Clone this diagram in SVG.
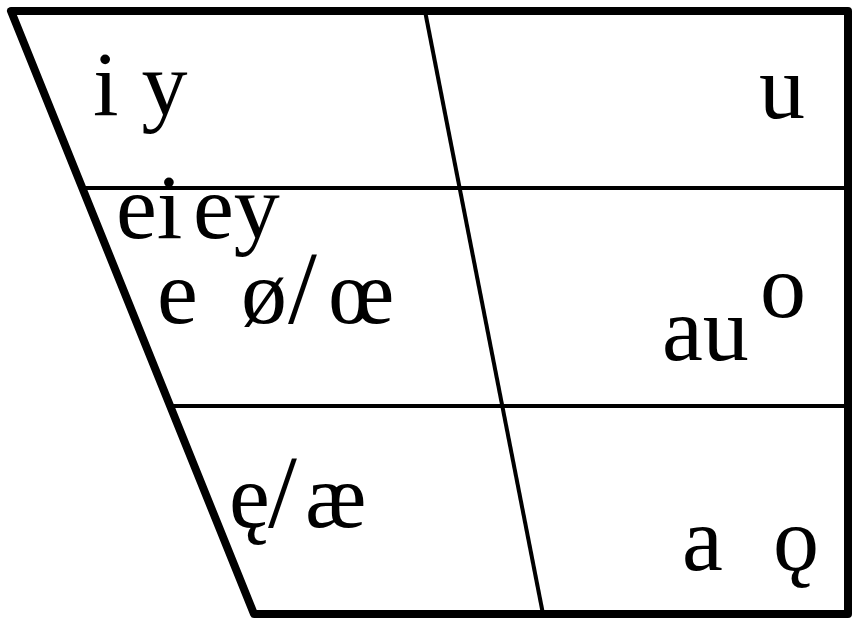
<svg xmlns="http://www.w3.org/2000/svg" width="854" height="619" viewBox="0 0 854 619">
<style>
.outer{fill:none;stroke:#000;stroke-width:8;stroke-linejoin:round}
.inner{fill:none;stroke:#000;stroke-width:4}
text{font-family:"Liberation Serif","DejaVu Serif",serif;font-size:92px;fill:#000}
.sl{font-size:104px}
</style>
<rect width="854" height="619" fill="#fff"/>
<g id="connectors">
<path class="outer" d="M11,11 L848,11 L848,614 L254,614 Z"/>
<line class="inner" x1="425" y1="11" x2="543" y2="614"/>
<line class="inner" x1="82" y1="188" x2="848" y2="188"/>
<line class="inner" x1="170" y1="406" x2="848" y2="406"/>
</g>
<g id="n-iy"><text x="93" y="115">i y</text></g>
<g id="n-u"><text x="759" y="118">u</text></g>
<g id="n-eiey"><text x="116" y="238">ei<tspan x="193">ey</tspan></text></g>
<g id="n-e"><text x="157" y="323">e</text></g>
<g id="n-oe"><text x="241" y="323">ø<tspan class="sl" x="288">/</tspan><tspan x="328">œ</tspan></text></g>
<g id="n-au"><text x="662" y="360">au</text></g>
<g id="n-o"><text x="760" y="317">o</text></g>
<g id="n-ae"><text x="229" y="527">ę<tspan class="sl" x="268">/</tspan><tspan x="305">æ</tspan></text></g>
<g id="n-a"><text x="682" y="570">a</text></g>
<g id="n-oo"><text x="773" y="570">ǫ</text></g>
</svg>
